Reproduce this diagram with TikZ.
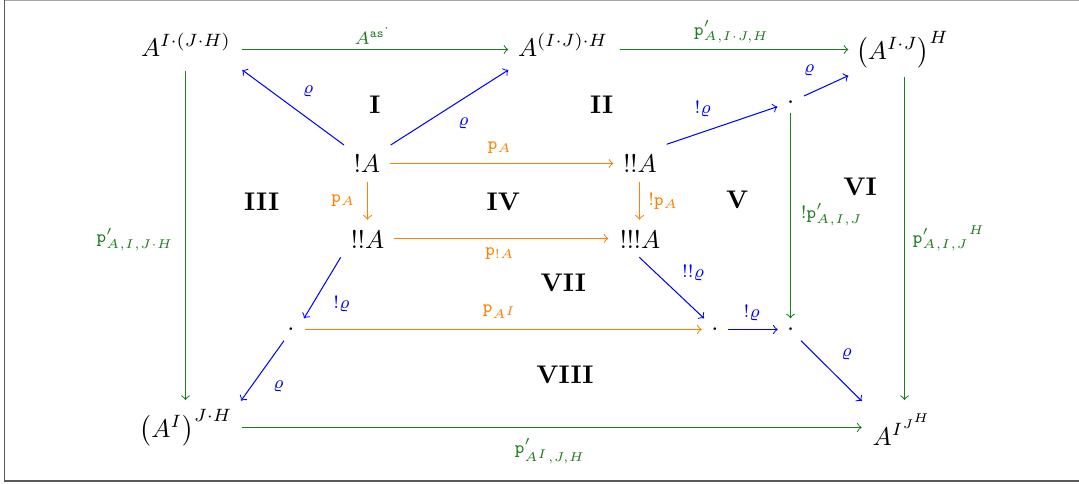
\documentclass[tikz,border=0pt]{standalone}
\usepackage{amsmath}
\definecolor{cgreen}{RGB}{30,125,30}
\definecolor{corange}{RGB}{255,128,0}
\definecolor{cblue}{RGB}{0,0,255}
\begin{document}
\begin{tikzpicture}[x=0.392pt,y=-0.392pt,
  obj/.style={inner sep=0pt, anchor=base},
  dotn/.style={inner sep=0pt, anchor=center},
  garr/.style={->, cgreen, line width=0.4pt},
  oarr/.style={->, corange, line width=0.4pt},
  barr/.style={->, cblue, line width=0.4pt},
  lbl/.style={inner sep=0pt, anchor=center},
  reg/.style={font=\bfseries, inner sep=0pt, anchor=center}]
\useasboundingbox (0,0) rectangle (1079,483);
\draw[line width=0.6pt, black!65] (1090,481) -- (4.5,481) -- (4.5,0.4);
\draw[line width=0.6pt, black!35] (4.5,0.4) -- (1090,0.4);

% objects
\node[obj] (n1) at (186,56) {$A^{I\cdot(J\cdot H)}$};
\node[obj] (n2) at (563,56) {$A^{(I\cdot J)\cdot H}$};
\node[obj] (n3) at (902.5,59) {$\left(A^{I\cdot J}\right)^{H}$};
\node[dotn] (dT) at (790.7,101.7) {.};
\node[obj] (a1) at (367,172.7) {$!A$};
\node[obj] (a2) at (640,172.7) {$!!A$};
\node[obj] (b1) at (367.5,248.3) {$!!A$};
\node[obj] (b2) at (640,248.3) {$!!!A$};
\node[dotn] (dL) at (291,329.3) {.};
\node[dotn] (dM) at (715,329.3) {.};
\node[dotn] (dR) at (790.7,329.3) {.};
\node[obj] (c1) at (186,437) {$\left(A^{I}\right)^{J\cdot H}$};
\node[obj] (c2) at (902.5,445) {$A^{I^{J^{H}}}$};

% region labels
\node[reg] (rI) at (375,105) {I};
\node[reg] (rII) at (601.7,105) {II};
\node[reg] (rIII) at (261.7,201.7) {III};
\node[reg] (rIV) at (503.3,201.7) {IV};
\node[reg] (rV) at (737.3,200) {V};
\node[reg] (rVI) at (860,186.7) {VI};
\node[reg] (rVII) at (563.3,283.3) {VII};
\node[reg] (rVIII) at (565,375) {VIII};

% green arrows
\draw[garr] ([shift={(56.3,-6.5)}]n1.base) -- ([shift={(-54.7,-6.5)}]n2.base)
  node[lbl,midway,shift={(-2,-14.3)}] {$\scriptstyle A^{\mathtt{as}^{\cdot}}$};
\draw[garr] ([shift={(57,-6.5)}]n2.base) -- ([shift={(-54.2,-9.5)}]n3.base)
  node[lbl,midway,shift={(-2.5,-17.6)}] {$\scriptstyle \mathtt{p}'_{A,I\cdot J,H}$};
\draw[garr] ([shift={(-0.5,15)}]n1.base) -- ([shift={(-0.5,-37)}]c1.base)
  node[lbl,midway,shift={(-50.5,3.8)}] {$\scriptstyle \mathtt{p}'_{A,I,J\cdot H}$};
\draw[garr] ([shift={(2,17.7)}]n3.base) -- ([shift={(2,-45)}]c2.base)
  node[lbl,midway,shift={(44.5,0)}] {$\scriptstyle {\mathtt{p}'_{A,I,J}}^{H}$};
\draw[garr] ([shift={(55.7,-9.5)}]c1.base) -- ([shift={(-40.8,-17.5)}]c2.base)
  node[lbl,midway,shift={(-1.7,24)}] {$\scriptstyle \mathtt{p}'_{A^I,J,H}$};
\draw[garr] ([shift={(-0.2,11.6)}]dT.center) -- ([shift={(-0.2,-11)}]dR.center)
  node[lbl,midway,shift={(41.2,-0.8)}] {$\scriptstyle !\mathtt{p}'_{A,I,J}$};

% blue arrows
\draw[barr] ([shift={(-23,-27.7)}]a1.base) -- ([shift={(56.3,14)}]n1.base)
  node[lbl,midway,shift={(15.1,-15.8)}] {$\scriptstyle\varrho$};
\draw[barr] ([shift={(23.7,-27.7)}]a1.base) -- ([shift={(-54.7,14)}]n2.base)
  node[lbl,midway,shift={(13.8,15.8)}] {$\scriptstyle\varrho$};
\draw[barr] ([shift={(26.7,-28.4)}]a2.base) -- ([shift={(-13.4,5)}]dT.center)
  node[lbl,midway,shift={(-19.3,-16.2)}] {$\scriptstyle !\varrho$};
\draw[barr] ([shift={(13.3,-5.7)}]dT.center) -- ([shift={(-54.2,16.7)}]n3.base)
  node[lbl,midway,shift={(-16.9,-15.9)}] {$\scriptstyle\varrho$};
\draw[barr] ([shift={(-26.8,9)}]b1.base) -- ([shift={(13,-11)}]dL.center)
  node[lbl,midway,shift={(19.3,16.2)}] {$\scriptstyle !\varrho$};
\draw[barr] ([shift={(-7,11.4)}]dL.center) -- ([shift={(55,-36.3)}]c1.base)
  node[lbl,midway,shift={(15.8,16)}] {$\scriptstyle\varrho$};
\draw[barr] ([shift={(-0.7,9)}]b2.base) -- ([shift={(-11,-11)}]dM.center)
  node[lbl,midway,shift={(21.6,-15.1)}] {$\scriptstyle !!\varrho$};
\draw[barr] ([shift={(13.3,0.2)}]dM.center) -- ([shift={(-13,0.2)}]dR.center)
  node[lbl,midway,shift={(-1.3,-16)}] {$\scriptstyle !\varrho$};
\draw[barr] ([shift={(10.3,11.4)}]dR.center) -- ([shift={(-40.8,-44)}]c2.base)
  node[lbl,midway,shift={(15.3,-16.9)}] {$\scriptstyle\varrho$};

% orange arrows
\draw[oarr] ([shift={(23,-9.2)}]a1.base) -- ([shift={(-26.7,-9.2)}]a2.base)
  node[lbl,midway,shift={(-1.7,-15.8)}] {$\scriptstyle \mathtt{p}_A$};
\draw[oarr] ([shift={(0.5,9)}]a1.base) -- ([shift={(0,-28.6)}]b1.base)
  node[lbl,midway,shift={(-24.2,0)}] {$\scriptstyle \mathtt{p}_A$};
\draw[oarr] ([shift={(-0.5,9)}]a2.base) -- ([shift={(-0.5,-28.6)}]b2.base)
  node[lbl,midway,shift={(23.8,0.8)}] {$\scriptstyle !\mathtt{p}_A$};
\draw[oarr] ([shift={(26.8,-9.8)}]b1.base) -- ([shift={(-31.7,-9.8)}]b2.base)
  node[lbl,midway,shift={(-1.3,15)}] {$\scriptstyle \mathtt{p}_{!A}$};
\draw[oarr] ([shift={(14,0.2)}]dL.center) -- ([shift={(-13.3,0.2)}]dM.center)
  node[lbl,midway,shift={(-3.4,-17.6)}] {$\scriptstyle \mathtt{p}_{A^I}$};
\end{tikzpicture}
\end{document}
